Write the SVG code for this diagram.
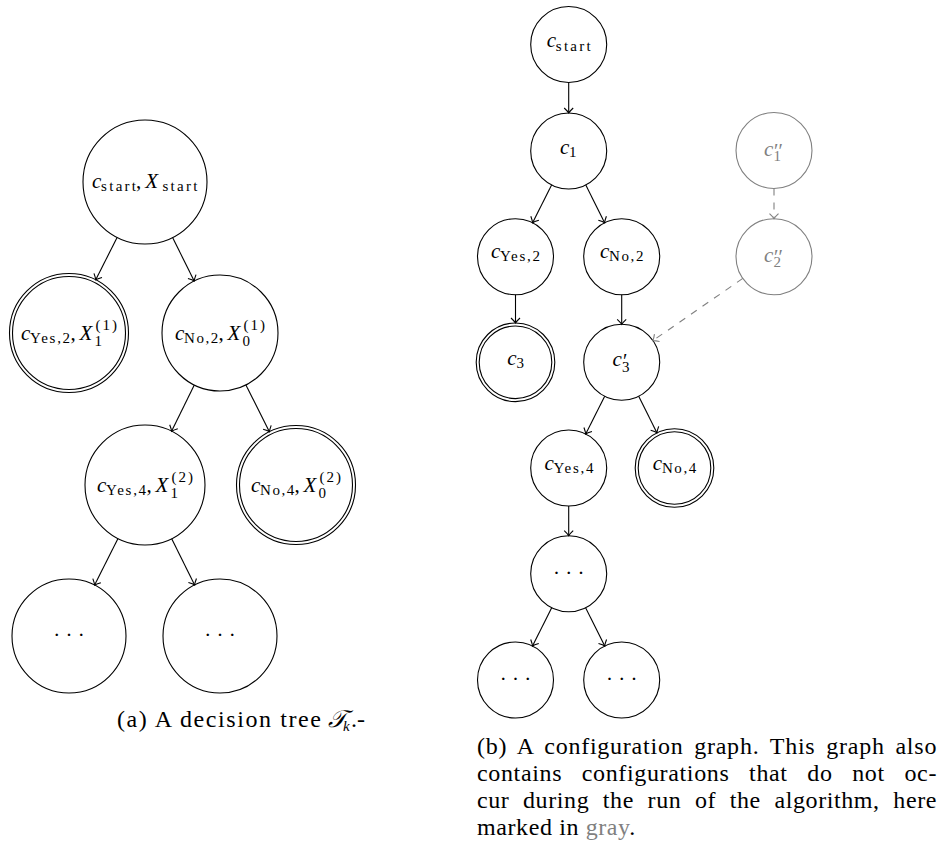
<svg xmlns="http://www.w3.org/2000/svg" width="943" height="852" viewBox="0 0 943 852">
<style>
.n{fill:none;stroke:#000;stroke-width:1.1}
.ng{fill:none;stroke:#808080;stroke-width:1.1}
.e{fill:none;stroke:#000;stroke-width:1.1;marker-end:url(#arr)}
.eg{fill:none;stroke:#808080;stroke-width:1.1;stroke-dasharray:7 7;marker-end:url(#arrg)}
text{font-family:"Liberation Serif","DejaVu Serif",serif;fill:#000}
.m{font-style:italic;font-size:21px}
.r{font-size:21px}
.s{font-size:15px}
.p{font-size:20px}
.gr{fill:#808080}
.d{font-size:21px;text-anchor:middle}
.cap{font-size:24px}
</style>
<defs>
<marker id="arr" markerUnits="userSpaceOnUse" viewBox="-8 -6 10 12" markerWidth="10" markerHeight="12" refX="0" refY="0" orient="auto" overflow="visible">
<path d="M-5,-4.5 Q-1.6,-0.9 0,0 Q-1.6,0.9 -5,4.5" fill="none" stroke="#000" stroke-width="1.1"/>
</marker>
<marker id="arrg" markerUnits="userSpaceOnUse" viewBox="-8 -6 10 12" markerWidth="10" markerHeight="12" refX="0" refY="0" orient="auto" overflow="visible">
<path d="M-5,-4.5 Q-1.6,-0.9 0,0 Q-1.6,0.9 -5,4.5" fill="none" stroke="#808080" stroke-width="1.1"/>
</marker>
</defs>

<!-- (a) decision tree -->
<g id="a-root">
<circle class="n" cx="145" cy="182" r="62"/>
<text class="m" x="92" y="187.5">c</text>
<text class="s" x="101.1" y="191" textLength="34.9">start</text>
<text class="r" x="136" y="187.5">,</text>
<text class="m" x="145.3" y="187.5">X</text>
<text class="s" x="162.5" y="191" textLength="34.9">start</text>
</g>
<g id="a-yes2">
<circle class="n" cx="69" cy="333" r="59.5"/>
<circle class="n" cx="69" cy="333" r="56.5"/>
<text class="m" x="21" y="339.5">c</text>
<text class="s" x="30.1" y="342.7" textLength="40">Yes,2</text>
<text class="r" x="70.5" y="339.5">,</text>
<text class="m" x="79.4" y="339.5">X</text>
<text class="s" x="95.4" y="330" textLength="21.5">(1)</text>
<text class="s" x="94.4" y="345.5">1</text>
</g>
<g id="a-no2">
<circle class="n" cx="220" cy="333" r="58"/>
<text class="m" x="174.9" y="339.5">c</text>
<text class="s" x="184" y="342.7" textLength="34.3">No,2</text>
<text class="r" x="218.5" y="339.5">,</text>
<text class="m" x="227.6" y="339.5">X</text>
<text class="s" x="243.6" y="330" textLength="21.5">(1)</text>
<text class="s" x="242.6" y="345.5">0</text>
</g>
<g id="a-yes4">
<circle class="n" cx="145" cy="485" r="60"/>
<text class="m" x="97" y="491.5">c</text>
<text class="s" x="106.1" y="494.7" textLength="40">Yes,4</text>
<text class="r" x="146.5" y="491.5">,</text>
<text class="m" x="155.4" y="491.5">X</text>
<text class="s" x="171.4" y="482" textLength="21.5">(2)</text>
<text class="s" x="170.4" y="497.5">1</text>
</g>
<g id="a-no4">
<circle class="n" cx="296" cy="485" r="59.5"/>
<circle class="n" cx="296" cy="485" r="56.5"/>
<text class="m" x="250.9" y="491.5">c</text>
<text class="s" x="260" y="494.7" textLength="34.3">No,4</text>
<text class="r" x="294.5" y="491.5">,</text>
<text class="m" x="303.6" y="491.5">X</text>
<text class="s" x="319.6" y="482" textLength="21.5">(2)</text>
<text class="s" x="318.6" y="497.5">0</text>
</g>
<g id="a-dotsL">
<circle class="n" cx="69" cy="636" r="57"/>
<text class="d" x="69" y="642">· · ·</text>
</g>
<g id="a-dotsR">
<circle class="n" cx="220" cy="636" r="57"/>
<text class="d" x="220" y="642">· · ·</text>
</g>
<g id="a-edges">
<line class="e" x1="117.1" y1="237.4" x2="95.75" y2="279.85"/>
<line class="e" x1="172.6" y1="237.5" x2="194.2" y2="281.06"/>
<line class="e" x1="194.3" y1="385" x2="171.55" y2="431.2"/>
<line class="e" x1="245.9" y1="384.9" x2="269.4" y2="431.8"/>
<line class="e" x1="118" y1="538.6" x2="94.6" y2="585.1"/>
<line class="e" x1="171.7" y1="538.7" x2="194.65" y2="584.95"/>
</g>
<g id="caption-a">
<text class="cap" x="117" y="727" textLength="204">(a) A decision tree</text>
<text class="cap" x="328" y="727" font-style="italic">𝒯</text>
<text class="s" x="343" y="731" font-style="italic">k</text>
<text class="cap" x="351" y="727">.-</text>
</g>

<!-- (b) configuration graph -->
<g id="b-start">
<circle class="n" cx="568.7" cy="44.5" r="38"/>
<text class="m" x="546.7" y="47.4">c</text>
<text class="s" x="555.8" y="50.5" textLength="34.9">start</text>
</g>
<g id="b-c1">
<circle class="n" cx="568.7" cy="151" r="38"/>
<text class="m" x="560" y="154">c</text>
<text class="s" x="569.1" y="157.2">1</text>
</g>
<g id="b-c1pp">
<circle class="ng" cx="774" cy="150.5" r="38"/>
<text class="m gr" x="764" y="155.5">c</text>
<text class="s gr" x="773.6" y="161">1<tspan class="p" dx="-7.1" dy="-3.5">′′</tspan></text>
</g>
<g id="b-c2pp">
<circle class="ng" cx="774" cy="256.7" r="38"/>
<text class="m gr" x="764" y="261.7">c</text>
<text class="s gr" x="773.6" y="267.2">2<tspan class="p" dx="-7.1" dy="-3.5">′′</tspan></text>
</g>
<g id="b-yes2">
<circle class="n" cx="515.5" cy="256.7" r="38"/>
<text class="m" x="490.9" y="258.2">c</text>
<text class="s" x="500" y="261.4" textLength="40">Yes,2</text>
</g>
<g id="b-no2">
<circle class="n" cx="621.7" cy="256.7" r="38"/>
<text class="m" x="600" y="258.2">c</text>
<text class="s" x="609.1" y="261.4" textLength="34.3">No,2</text>
</g>
<g id="b-c3">
<circle class="n" cx="515.5" cy="362.3" r="39.3"/>
<circle class="n" cx="515.5" cy="362.3" r="36.3"/>
<text class="m" x="507.3" y="365.2">c</text>
<text class="s" x="516.4" y="368.4">3</text>
</g>
<g id="b-c3p">
<circle class="n" cx="621.7" cy="362.3" r="38"/>
<text class="m" x="612.5" y="365.8">c</text>
<text class="s" x="622" y="371.5">3<tspan class="p" dx="-6.5" dy="-3.7">′</tspan></text>
</g>
<g id="b-yes4">
<circle class="n" cx="568.7" cy="468" r="38"/>
<text class="m" x="544.4" y="469.5">c</text>
<text class="s" x="553.5" y="472.7" textLength="40">Yes,4</text>
</g>
<g id="b-no4">
<circle class="n" cx="674.5" cy="468" r="39.3"/>
<circle class="n" cx="674.5" cy="468" r="36.3"/>
<text class="m" x="652.8" y="469.5">c</text>
<text class="s" x="661.9" y="472.7" textLength="34.3">No,4</text>
</g>
<g id="b-dots">
<circle class="n" cx="568.7" cy="573.7" r="38"/>
<text class="d" x="568.7" y="579.7">· · ·</text>
</g>
<g id="b-dotsL">
<circle class="n" cx="515.5" cy="680" r="38"/>
<text class="d" x="515.5" y="686">· · ·</text>
</g>
<g id="b-dotsR">
<circle class="n" cx="621.7" cy="680" r="38"/>
<text class="d" x="621.7" y="686">· · ·</text>
</g>
<g id="b-edges">
<line class="e" x1="568.7" y1="82.5" x2="568.7" y2="113"/>
<line class="e" x1="551.6" y1="184.95" x2="532.6" y2="222.75"/>
<line class="e" x1="585.8" y1="184.95" x2="604.6" y2="222.75"/>
<line class="e" x1="515.5" y1="294.7" x2="515.5" y2="323"/>
<line class="e" x1="621.7" y1="294.7" x2="621.7" y2="324.3"/>
<line class="e" x1="604.7" y1="396.3" x2="585.7" y2="434"/>
<line class="e" x1="638.7" y1="396.3" x2="656.9" y2="432.8"/>
<line class="e" x1="568.7" y1="506" x2="568.7" y2="535.7"/>
<line class="e" x1="551.7" y1="607.7" x2="532.5" y2="646"/>
<line class="e" x1="585.6" y1="607.7" x2="604.75" y2="646"/>
<line class="eg" x1="774" y1="188.5" x2="774" y2="218.7"/>
<line class="eg" x1="742.8" y1="278.4" x2="652.9" y2="340.6"/>
</g>
<g id="caption-b">
<text class="cap" x="477" y="754" letter-spacing="0.6" word-spacing="4" textLength="460">(b) A configuration graph. This graph also</text>
<text class="cap" x="477" y="781" letter-spacing="0.6" word-spacing="13" textLength="460">contains configurations that do not oc-</text>
<text class="cap" x="477" y="808" letter-spacing="0.6" word-spacing="7" textLength="460">cur during the run of the algorithm, here</text>
<text class="cap" x="477" y="835" letter-spacing="0.6">marked in <tspan class="gr">gray</tspan>.</text>
</g>
</svg>
